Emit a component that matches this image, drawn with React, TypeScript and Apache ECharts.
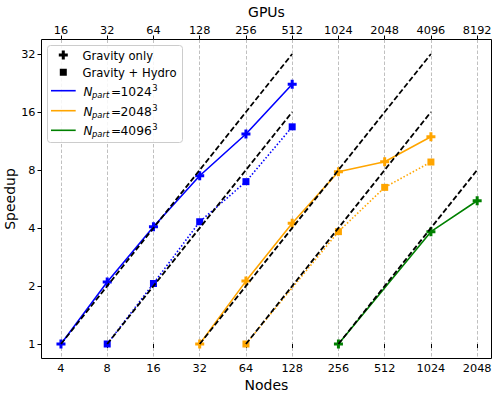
import React, { useEffect, useRef } from "react";
import * as echarts from "echarts";

// ---------- data ----------
const xTickNodes = [4, 8, 16, 32, 64, 128, 256, 512, 1024, 2048];
const yTickValues = [1, 2, 4, 8, 16, 32];
const gpusPerNode = 4;

const grav1024Nodes = [4, 8, 16, 32, 64, 128];
const grav1024 = [1, 2.1, 4.06, 7.47, 12.3, 22.3];
const hydro1024Nodes = [8, 16, 32, 64, 128];
const hydro1024 = [1, 2.06, 4.31, 6.96, 13.4];

const grav2048Nodes = [32, 64, 128, 256, 512, 1024];
const grav2048 = [1, 2.12, 4.23, 7.83, 8.83, 11.9];
const hydro2048Nodes = [64, 256, 512, 1024];
const hydro2048 = [1, 3.83, 6.5, 8.8];

const grav4096Nodes = [256, 1024, 2048];
const grav4096 = [1, 3.83, 5.54];

// ideal scaling lines
const idealStartNodes = [4, 8, 32, 64, 256];
const idealEndNodes = [128, 128, 1024, 1024, 2048];
const idealStartSpeedup = [1, 1, 1, 1, 1];
const idealEndSpeedup = [32, 16, 32, 16, 8];

const legendSizes = ["1024", "2048", "4096"];

const BLUE = "#0000ff";
const ORANGE = "#ffa500";
const GREEN = "#008000";
const legendColors = [BLUE, ORANGE, GREEN];

const FONT = "DejaVu Sans";
const PLUS_PATH = "path://M1,0H2V1H3V2H2V3H1V2H0V1H1Z";

const X_MIN = 1.579;
const X_MAX = 11.31;
const Y_MIN = -0.25;
const Y_MAX = 5.25;

function pts(xs: number[], ys: number[]) {
  return xs.map((n, i) => [Math.log2(n), Math.log2(ys[i])]);
}

function dataSeries(xs: number[], ys: number[], color: string, hydro: boolean) {
  return {
    type: "line",
    data: pts(xs, ys),
    xAxisIndex: 0,
    yAxisIndex: 0,
    symbol: hydro ? "rect" : PLUS_PATH,
    symbolSize: hydro ? 7 : 9,
    symbolKeepAspect: true,
    showSymbol: true,
    itemStyle: { color },
    lineStyle: {
      color,
      width: 1.6,
      type: hydro ? [1.5, 2] : "solid",
    },
    z: 2,
    silent: true,
  };
}

export default function App() {
  const ref = useRef<HTMLDivElement>(null);

  useEffect(() => {
    if (!ref.current) return;
    const chart = echarts.init(ref.current, undefined, { renderer: "svg" });

    const xTicks = xTickNodes.map((n) => Math.log2(n));
    const yTicks = yTickValues.map((v) => Math.log2(v));

    const series: any[] = [
      dataSeries(grav1024Nodes, grav1024, BLUE, false),
      dataSeries(hydro1024Nodes, hydro1024, BLUE, true),
      dataSeries(grav2048Nodes, grav2048, ORANGE, false),
      dataSeries(hydro2048Nodes, hydro2048, ORANGE, true),
      dataSeries(grav4096Nodes, grav4096, GREEN, false),
    ];
    idealStartNodes.forEach((s, i) => {
      series.push({
        type: "line",
        data: pts([s, idealEndNodes[i]], [idealStartSpeedup[i], idealEndSpeedup[i]]),
        symbol: "none",
        lineStyle: { color: "#000", width: 1.8, type: [5.5, 2.5] },
        z: 3,
        silent: true,
      });
    });

    const tickStyle = { color: "#000", width: 1 };
    const labelStyle = { fontFamily: FONT, fontSize: 11.3, color: "#000" };
    const nameStyle = { fontFamily: FONT, fontSize: 14, color: "#000" };

    // legend graphic
    const lx = 63.3;
    const textX = 83.3;
    const plusH = 4.5;
    const plusA = 1.5;
    const plusPts = [
      [-plusA, -plusH], [plusA, -plusH], [plusA, -plusA], [plusH, -plusA],
      [plusH, plusA], [plusA, plusA], [plusA, plusH], [-plusA, plusH],
      [-plusA, plusA], [-plusH, plusA], [-plusH, -plusA], [-plusA, -plusA],
    ];
    const graphic: any[] = [
      {
        type: "rect",
        shape: { x: 47.5, y: 45.5, width: 135, height: 97, r: 3 },
        style: { fill: "rgba(255,255,255,0.85)", stroke: "#cccccc", lineWidth: 1 },
        z: 100,
      },
      {
        type: "polygon",
        x: lx,
        y: 55,
        shape: { points: plusPts },
        style: { fill: "#000" },
        z: 101,
      },
      {
        type: "rect",
        shape: { x: lx - 3.5, y: 72.3 - 3.5, width: 7, height: 7 },
        style: { fill: "#000" },
        z: 101,
      },
      {
        type: "text",
        x: textX - 0.8,
        y: 55.5,
        style: { text: "Gravity only", fontFamily: FONT, fontSize: 11.6, fill: "#000", align: "left", verticalAlign: "middle" },
        z: 101,
      },
      {
        type: "text",
        x: textX - 0.8,
        y: 72.6,
        style: { text: "Gravity + Hydro", fontFamily: FONT, fontSize: 11.6, fill: "#000", align: "left", verticalAlign: "middle" },
        z: 101,
      },
    ];
    const rowY = [90.7, 110.7, 130.3];
    legendSizes.forEach((size, i) => {
      const y = rowY[i];
      graphic.push(
        {
          type: "line",
          shape: { x1: 51, y1: y, x2: 75.7, y2: y },
          style: { stroke: legendColors[i], lineWidth: 1.6 },
          z: 101,
        },
        {
          type: "text",
          x: 83.5,
          y: y + 1,
          style: { text: "N", fontFamily: FONT, fontStyle: "italic", fontSize: 12, fill: "#000", align: "left", verticalAlign: "middle" },
          z: 101,
        },
        {
          type: "text",
          x: 92,
          y: y + 3.8,
          style: { text: "part", fontFamily: FONT, fontStyle: "italic", fontSize: 8.4, fill: "#000", align: "left", verticalAlign: "middle" },
          z: 101,
        },
        {
          type: "text",
          x: 111,
          y: y + 1,
          style: { text: "=", fontFamily: FONT, fontSize: 12, fill: "#000", align: "left", verticalAlign: "middle" },
          z: 101,
        },
        {
          type: "text",
          x: 120.5,
          y: y + 1,
          style: { text: size, fontFamily: FONT, fontSize: 12.3, fill: "#000", align: "left", verticalAlign: "middle" },
          z: 101,
        },
        {
          type: "text",
          x: 152.3,
          y: y - 3.2,
          style: { text: "3", fontFamily: FONT, fontSize: 8.4, fill: "#000", align: "left", verticalAlign: "middle" },
          z: 101,
        }
      );
    });

    chart.setOption({
      animation: false,
      backgroundColor: "#ffffff",
      grid: {
        left: 41.5,
        right: 6.5,
        top: 39.5,
        bottom: 38.5,
        show: true,
        borderColor: "#000",
        borderWidth: 1,
        backgroundColor: "transparent",
        containLabel: false,
        outerBoundsMode: "none",
      },
      xAxis: [
        {
          type: "value",
          position: "bottom",
          min: X_MIN,
          max: X_MAX,
          axisLine: { show: false },
          axisTick: { show: true, length: 4, lineStyle: tickStyle, customValues: xTicks },
          axisLabel: {
            ...labelStyle,
            margin: 4,
            customValues: xTicks,
            formatter: (v: number) => String(Math.round(Math.pow(2, v))),
          },
          splitLine: { show: true, lineStyle: { color: "#c0c0c0", width: 1, type: [3.5, 2] } },
          name: "Nodes",
          nameLocation: "middle",
          nameGap: 18,
          nameTextStyle: nameStyle,
        },
        {
          type: "value",
          position: "top",
          min: X_MIN,
          max: X_MAX,
          axisLine: { show: false },
          axisTick: { show: true, length: 4, lineStyle: tickStyle, customValues: xTicks },
          axisLabel: {
            ...labelStyle,
            margin: 4,
            customValues: xTicks,
            formatter: (v: number) => String(Math.round(gpusPerNode * Math.pow(2, v))),
          },
          splitLine: { show: false },
          name: "GPUs",
          nameLocation: "middle",
          nameGap: 21,
          nameTextStyle: nameStyle,
        },
      ],
      yAxis: {
        type: "value",
        min: Y_MIN,
        max: Y_MAX,
        axisLine: { show: false },
        axisTick: { show: true, length: 4, lineStyle: tickStyle, customValues: yTicks },
        axisLabel: {
          ...labelStyle,
          margin: 6,
          customValues: yTicks,
          formatter: (v: number) => String(Math.round(Math.pow(2, v))),
        },
        splitLine: { show: false },
        name: "Speedup",
        nameLocation: "middle",
        nameGap: 25,
        nameMoveOverlap: false,
        nameRotate: 90,
        nameTextStyle: nameStyle,
      },
      series,
      graphic,
    });

    return () => chart.dispose();
  }, []);

  return (
    <div
      ref={ref}
      style={{ position: "fixed", left: 0, top: 0, width: 498, height: 397, background: "#fff" }}
    />
  );
}
